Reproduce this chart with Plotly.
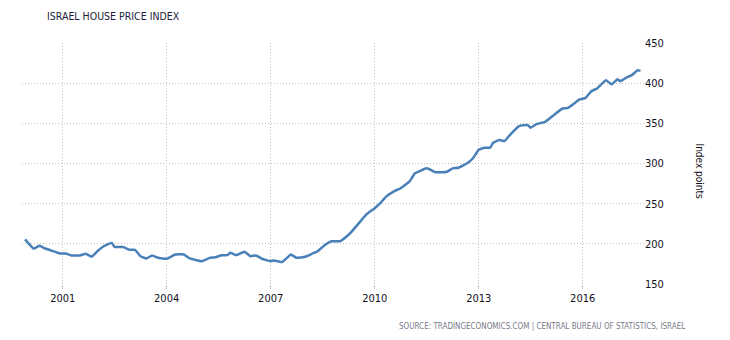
import plotly.graph_objects as go

dates = ["1999-12-01", "2000-03-01", "2000-05-01", "2000-07-01", "2000-09-01", "2000-12-01",
         "2001-02-01", "2001-04-01", "2001-07-01", "2001-09-01", "2001-11-01",
         "2002-01-01", "2002-03-01", "2002-04-01", "2002-06-01", "2002-07-01", "2002-10-01", "2002-12-01",
         "2003-02-01", "2003-04-01", "2003-06-01", "2003-08-01", "2003-10-01",
         "2004-01-01", "2004-04-01", "2004-07-01", "2004-09-01",
         "2005-01-01", "2005-04-01", "2005-06-01", "2005-08-01", "2005-10-01", "2005-11-01",
         "2006-01-01", "2006-04-01", "2006-06-01", "2006-08-01", "2006-10-01",
         "2007-01-01", "2007-02-01", "2007-05-01", "2007-08-01", "2007-10-01",
         "2008-01-01", "2008-04-01", "2008-05-01", "2008-08-01", "2008-10-01",
         "2009-01-01", "2009-03-01", "2009-05-01", "2009-08-01", "2009-10-01",
         "2010-01-01", "2010-03-01", "2010-05-01", "2010-08-01", "2010-10-01",
         "2011-01-01", "2011-03-01", "2011-07-01", "2011-08-01", "2011-10-01",
         "2012-02-01", "2012-04-01", "2012-06-01", "2012-09-01", "2012-11-01",
         "2013-01-01", "2013-03-01", "2013-05-01", "2013-06-01", "2013-08-01", "2013-10-01", "2013-12-01",
         "2014-03-01", "2014-06-01", "2014-07-01", "2014-09-01", "2014-12-01",
         "2015-03-01", "2015-06-01", "2015-08-01", "2015-12-01",
         "2016-02-01", "2016-04-01", "2016-06-01", "2016-09-01", "2016-11-01",
         "2017-01-01", "2017-02-01", "2017-04-01", "2017-06-01", "2017-08-01", "2017-09-01"]

values = [205.5, 194.0, 197.5, 194.2, 191.7, 188.0,
          188.0, 185.5, 185.5, 187.6, 184.0,
          190.8, 196.3, 198.3, 201.2, 196.3, 196.0, 192.6,
          192.6, 184.6, 181.8, 185.5, 182.6,
          181.4, 186.7, 186.7, 181.8,
          178.4, 182.6, 183.4, 185.9, 185.9, 188.8,
          185.9, 190.1, 184.6, 185.5, 181.4,
          178.4, 179.3, 177.2, 186.7, 182.6,
          183.9, 188.8, 190.1, 199.1, 203.2,
          203.2, 208.2, 214.9, 227.7, 236.1,
          244.4, 250.6, 258.8, 265.9, 269.2,
          277.4, 287.8, 294.0, 292.8, 289.1,
          289.8, 294.0, 294.8, 300.3, 306.5,
          317.0, 319.6, 319.6, 325.8, 329.2, 328.0, 336.3,
          346.6, 347.8, 344.5, 349.0, 351.9,
          360.2, 368.5, 369.3, 379.7,
          381.7, 390.0, 393.4, 403.7, 398.4,
          404.9, 402.5, 406.6, 410.0, 416.1, 415.3]

x_tick_vals = ["2001-01-01", "2004-01-01", "2007-01-01", "2010-01-01", "2013-01-01", "2016-01-01"]
x_tick_text = ["2001", "2004", "2007", "2010", "2013", "2016"]
y_tick_vals = [150, 200, 250, 300, 350, 400, 450]

title_text = "ISRAEL HOUSE PRICE INDEX"
y_title = "Index points"
source_text = "SOURCE: TRADINGECONOMICS.COM | CENTRAL BUREAU OF STATISTICS, ISRAEL"

font_family = "DejaVu Sans Condensed, DejaVu Sans, sans-serif"
grid_col = "#c4c4c4"

fig = go.Figure()
fig.add_trace(go.Scatter(
    x=dates, y=values, mode="lines",
    line=dict(color="#4a80b8", width=2.5, shape="spline", smoothing=0.3),
    hoverinfo="x+y", showlegend=False,
))

fig.update_layout(
    width=722, height=332,
    margin=dict(l=14, r=86, t=35, b=56, autoexpand=False),
    paper_bgcolor="white", plot_bgcolor="white",
    font=dict(family=font_family, size=11, color="#111122"),
    xaxis=dict(
        range=["1999-10-30", "2017-10-08"],
        tickvals=x_tick_vals, ticktext=x_tick_text,
        showgrid=True, gridcolor=grid_col, griddash="1px,2px", gridwidth=1,
        zeroline=False, showline=False,
        ticks="outside", ticklen=4, tickcolor=grid_col,
        tickfont=dict(size=11, color="#111122", family=font_family),
    ),
    yaxis=dict(
        range=[150, 450], side="right",
        tickvals=y_tick_vals,
        showgrid=True, gridcolor=grid_col, griddash="1px,2px", gridwidth=1,
        zeroline=False, showline=False, ticks="",
        tickfont=dict(size=11, color="#111122", family=font_family),
    ),
    annotations=[
        dict(text=title_text, xref="paper", yref="paper", x=0.037, y=1.0,
             xanchor="left", yanchor="middle", yshift=27, showarrow=False,
             font=dict(size=10.5, color="#1c1c3a", family=font_family)),
        dict(text=y_title, xref="paper", yref="paper", x=1.0, y=0.5,
             xanchor="center", yanchor="middle", xshift=55, yshift=-8, textangle=90, showarrow=False,
             font=dict(size=10, color="#111122", family=font_family)),
        dict(text=source_text, xref="paper", yref="paper", x=1.0, y=0.0,
             xanchor="right", yanchor="middle", xshift=43, yshift=-42, showarrow=False,
             font=dict(size=8, color="#7a7a8a", family=font_family)),
    ],
)

fig.write_html("out.html")
